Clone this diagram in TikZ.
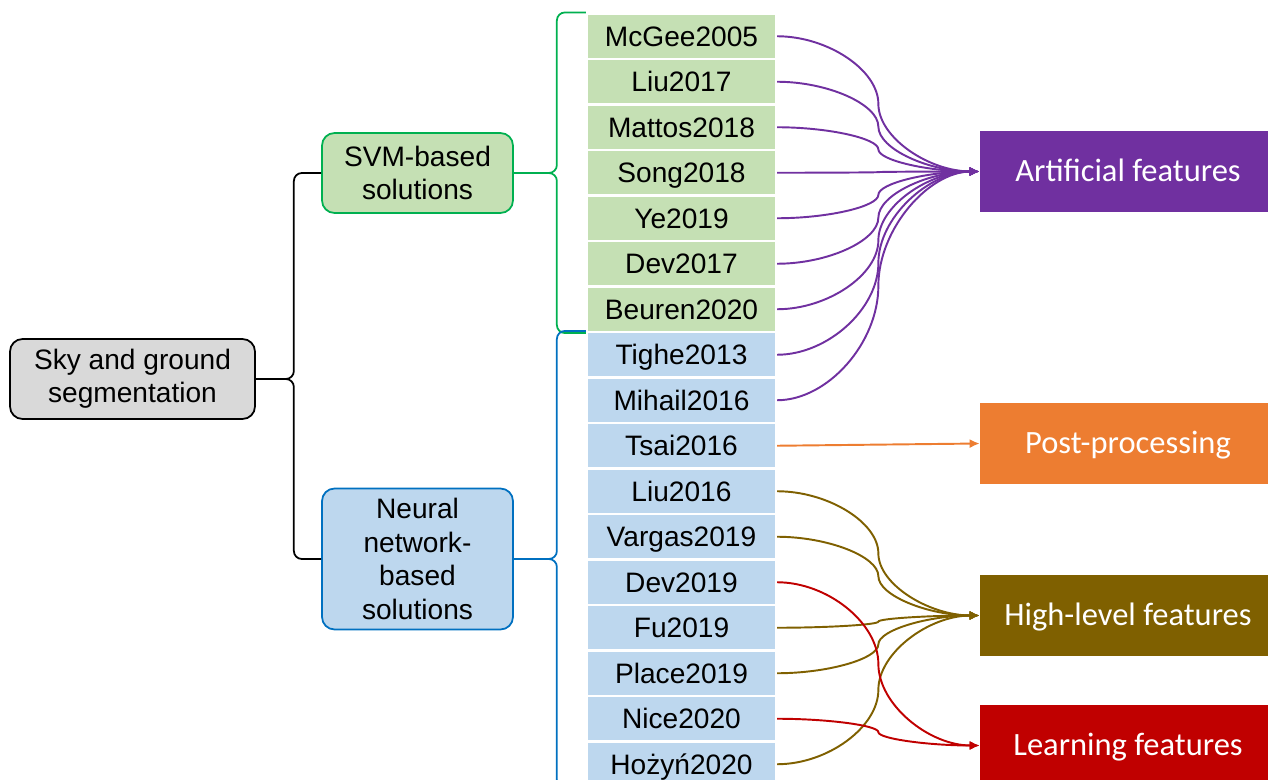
\documentclass[tikz,border=0pt]{standalone}
\usepackage{fontspec}
\setmainfont{Liberation Sans}
\newfontfamily\carlito{Carlito}
\usetikzlibrary{arrows.meta,calc}
\definecolor{rootgray}{HTML}{D9D9D9}
\definecolor{svmgreen}{HTML}{C5E0B4}
\definecolor{svmline}{HTML}{00B050}
\definecolor{nnblue}{HTML}{BDD7EE}
\definecolor{nnline}{HTML}{0070C0}
\definecolor{artpurple}{HTML}{7030A0}
\definecolor{postorange}{HTML}{ED7D31}
\definecolor{highbrown}{HTML}{7F6000}
\definecolor{learnred}{HTML}{C00000}
\tikzset{every picture/.style={/utils/exec={\fontsize{16}{19}\selectfont}}}
\tikzset{group/.style={draw,rounded corners=0.25cm,line width=1pt,align=center,minimum width=3.82cm,inner sep=2pt}}
\tikzset{paper/.style={fill=#1,draw=white,line width=1.2pt,minimum width=3.78cm,minimum height=0.91cm,inner sep=0pt,text height=11.5pt,text depth=0pt}}
\tikzset{feature/.style={fill=#1,text=white,minimum width=5.92cm,minimum height=1.62cm,text height=11.9pt,text depth=0pt,font=\carlito\fontsize{18.5}{22}\selectfont}}
\tikzset{brace/.style={rounded corners=0.16cm,line width=1pt}}
\tikzset{link/.style={-{Latex[length=0.2cm,width=0.18cm]},line width=1.1pt,draw=#1}}
% two-part curved connector, vertical in the middle
\tikzset{bend link/.style={to path={let \p1=(\tikztostart), \p2=(\tikztotarget) in
    .. controls ({0.75*\x1+0.25*\x2},\y1) and ({0.5*\x1+0.5*\x2},{0.75*\y1+0.25*\y2}) .. ({0.5*\x1+0.5*\x2},{0.5*\y1+0.5*\y2})
    .. controls ({0.5*\x1+0.5*\x2},{0.25*\y1+0.75*\y2}) and ({0.25*\x1+0.75*\x2},\y2) .. (\tikztotarget)}}}

\begin{document}
\begin{tikzpicture}[x=0.02cm,y=-0.02cm]
    \clip (0,0) rectangle (1268,780);
    \node [group,fill=rootgray,minimum width=4.9cm,minimum height=1.6cm] (root) at (132.5,379) {Sky and ground\\segmentation};
    \node [group,draw=svmline,fill=svmgreen,minimum height=1.6cm] (svm) at (417.5,173) {SVM-based\\solutions};
    \node [group,draw=nnline,fill=nnblue,minimum height=2.82cm] (nn) at (417.5,559) {Neural\\network-\\based\\solutions};
    \foreach \name [count=\i] in {McGee2005,Liu2017,Mattos2018,Song2018,Ye2019,Dev2017,Beuren2020}
        \node [paper=svmgreen] (p\i) at (681.5,36.25+45.5*\i-45.5) {\name};
    \foreach \name [count=\i from 8] in {Tighe2013,Mihail2016,Tsai2016,Liu2016,Vargas2019,Dev2019,Fu2019,Place2019,Nice2020,Hożyń2020}
        \node [paper=nnblue] (p\i) at (681.5,36.25+45.5*\i-45.5) {\name};
    \node [feature=artpurple] (art) at (1128,171.5) {Artificial features};
    \node [feature=postorange] (post) at (1128,443.5) {Post-processing};
    \node [feature=highbrown] (high) at (1128,615.5) {High-level features};
    \node [feature=learnred] (learn) at (1128,745.5) {Learning features};
    % braces
    \draw [brace] (root.east) -- ++(38,0) |- (svm.west);
    \draw [brace] (root.east) -- ++(38,0) |- (nn.west);
    \draw [brace,svmline] (svm.east) -- ++(43,0) |- (p1.north west);
    \draw [brace,svmline] (svm.east) -- ++(43,0) |- (p7.south west);
    \draw [brace,nnline] (nn.east) -- ++(43,0) |- (p8.north west);
    \draw [brace,nnline] (nn.east) -- ++(43,0) |- (p17.south west);
    % links to features
    \foreach \i in {1,...,9}
        \draw [link=artpurple] (p\i.east) to[bend link] (art.west);
    \draw [link=postorange] (p10.east) -- (post.west);
    \foreach \i in {11,12,14,15,17}
        \draw [link=highbrown] (p\i.east) to[bend link] (high.west);
    \foreach \i in {13,16}
        \draw [link=learnred] (p\i.east) to[bend link] (learn.west);
\end{tikzpicture}
\end{document}
